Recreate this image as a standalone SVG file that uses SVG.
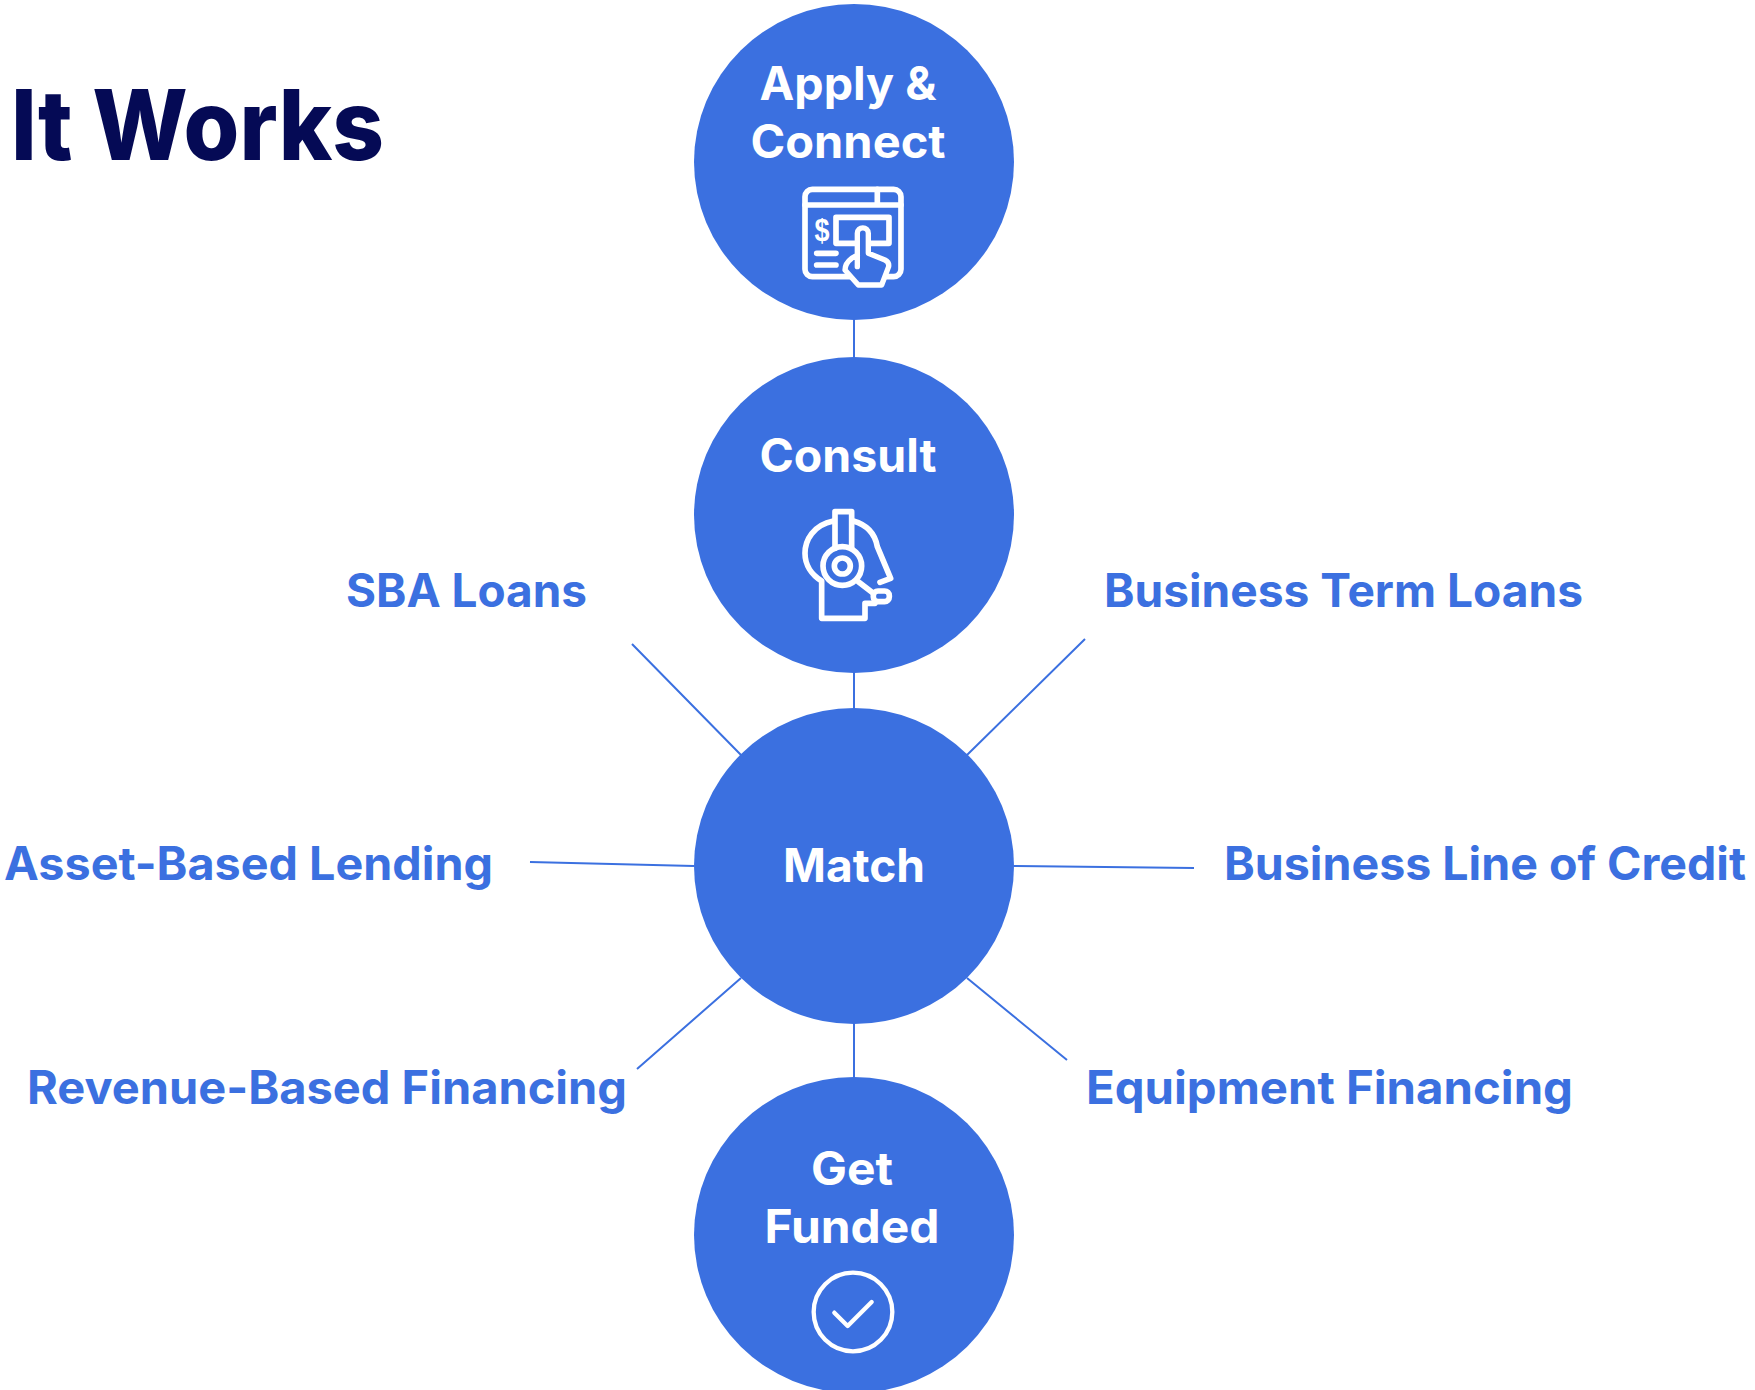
<svg xmlns="http://www.w3.org/2000/svg" width="1755" height="1390" viewBox="0 0 1755 1390">
<style>
text{font-family:"Inter","Liberation Sans",sans-serif;font-weight:700}
.title{font-size:98px;fill:#050a55;font-weight:800}
.lab{font-size:46px;fill:#3b70e0}
.nt{font-size:46px;fill:#fff;text-anchor:middle}
.n{fill:#3b70e0}
.c{stroke:#3b70e0;stroke-width:2;fill:none}
.i{fill:#3b70e0;stroke:#fff;stroke-width:16;stroke-linejoin:round;stroke-linecap:round}
.o{fill:none;stroke:#fff;stroke-width:17;stroke-linejoin:round;stroke-linecap:round}
.t{fill:none;stroke:#fff;stroke-width:13;stroke-linejoin:round;stroke-linecap:round}
</style>
<rect width="1755" height="1390" fill="#fff"/>
<text id="title" class="title" x="11" y="160" textLength="373" lengthAdjust="spacingAndGlyphs">It Works</text>
<g id="connectors" class="c">
<path d="M854 318V359M854 671V711M854 1022V1079"/>
<path d="M632 644L741 755M1085 639L967 755M530 862L694 866M1014 866L1194 868M741 978L637 1069M967 978L1067 1060"/>
</g>
<g id="apply"><ellipse class="n" cx="854" cy="162" rx="160" ry="158"/>
<text class="nt" x="848" y="100" textLength="177" lengthAdjust="spacingAndGlyphs">Apply &amp;</text>
<text class="nt" x="848" y="158" textLength="195" lengthAdjust="spacingAndGlyphs">Connect</text>
<g transform="translate(770 170) scale(.3333)">
<rect class="o" x="105" y="58" width="288" height="262" rx="22"/>
<path class="o" d="M105 105H393M322 58V105M140 250H198M140 285H198"/>
<rect class="o" x="198" y="142" width="159" height="78"/>
<path class="i" d="M262 290V190C262 168 295 168 295 190V250L345 270Q358 276 356 290L335 345H265L225 300Q225 280 245 265L262 255"/>
</g>
<text x="822" y="241" font-size="32" fill="#fff" text-anchor="middle" textLength="15" lengthAdjust="spacingAndGlyphs" style="font-family:'Liberation Sans',sans-serif">$</text>
</g>
<g id="consult"><ellipse class="n" cx="854" cy="515" rx="160" ry="158"/>
<text class="nt" x="848" y="472" textLength="177" lengthAdjust="spacingAndGlyphs">Consult</text>
<g transform="translate(780 495) scale(.3333)">
<path class="o" d="M160 78C100 90 75 135 75 175C75 210 95 240 125 258V370H255V325H285"/>
<path class="o" d="M220 78C262 90 285 115 292 155L332 250L300 262"/>
<path class="o" d="M165 50H215M165 50V160M215 50V160"/>
<circle class="o" cx="187" cy="213" r="58"/>
<circle class="o" cx="187" cy="213" r="24"/>
<path class="o" d="M235 260L280 295"/>
<rect class="o" x="280" y="288" width="48" height="32" rx="14"/>
</g>
</g>
<g id="match"><ellipse class="n" cx="854" cy="866" rx="160" ry="158"/>
<text class="nt" x="854" y="882" textLength="142" lengthAdjust="spacingAndGlyphs">Match</text></g>
<g id="funded"><ellipse class="n" cx="854" cy="1235" rx="160" ry="158"/>
<text class="nt" x="852" y="1185" textLength="82" lengthAdjust="spacingAndGlyphs">Get</text>
<text class="nt" x="852" y="1243" textLength="175" lengthAdjust="spacingAndGlyphs">Funded</text>
<g transform="translate(790 1252) scale(.3333)">
<circle class="t" cx="189" cy="180" r="118"/>
<path class="t" d="M133 182L173 222L245 150"/>
</g>
</g>
<g id="label-sba"><text class="lab" x="346" y="607" textLength="241" lengthAdjust="spacingAndGlyphs">SBA Loans</text></g>
<g id="label-term"><text class="lab" x="1104" y="607" textLength="479" lengthAdjust="spacingAndGlyphs">Business Term Loans</text></g>
<g id="label-asset"><text class="lab" x="4" y="880" textLength="489" lengthAdjust="spacingAndGlyphs">Asset-Based Lending</text></g>
<g id="label-loc"><text class="lab" x="1224" y="880" textLength="522" lengthAdjust="spacingAndGlyphs">Business Line of Credit</text></g>
<g id="label-rev"><text class="lab" x="27" y="1104" textLength="600" lengthAdjust="spacingAndGlyphs">Revenue-Based Financing</text></g>
<g id="label-equip"><text class="lab" x="1086" y="1104" textLength="487" lengthAdjust="spacingAndGlyphs">Equipment Financing</text></g>
</svg>
